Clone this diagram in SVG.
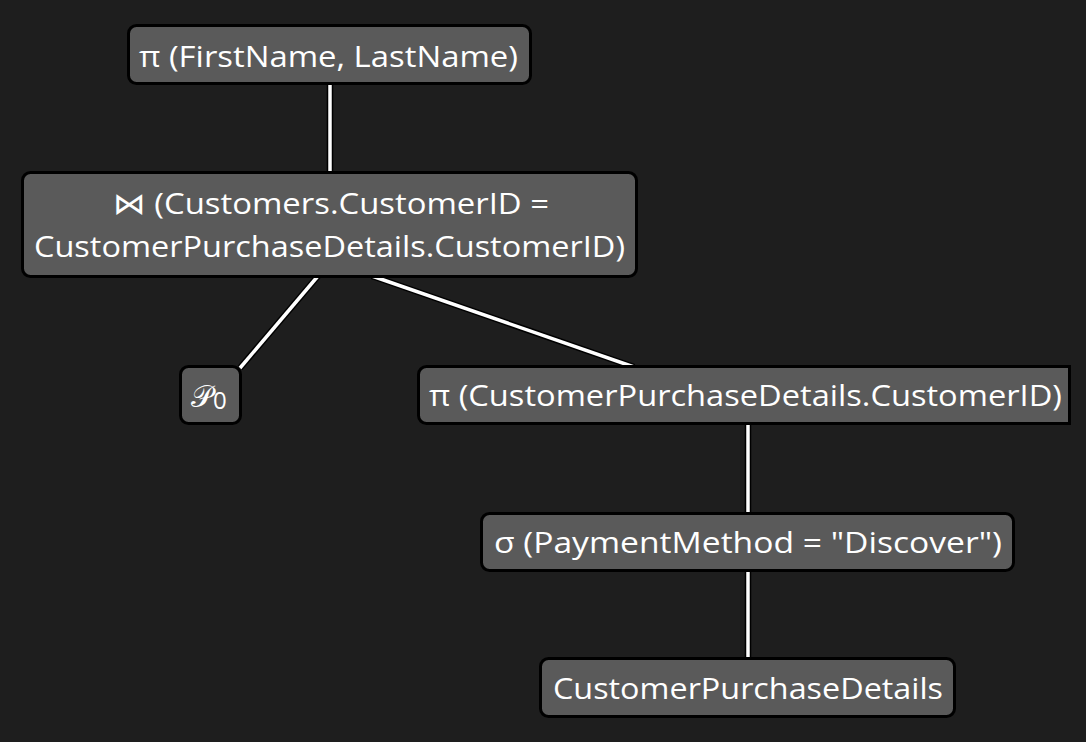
<svg xmlns="http://www.w3.org/2000/svg" width="1086" height="742" viewBox="0 0 1086 742">
  <style>
    .bg { fill: #1e1e1e; }
    .box { fill: #5a5a5a; stroke: #000000; stroke-width: 3; }
    .label { font-family: "Open Sans", "Noto Sans", "DejaVu Sans", sans-serif; font-size: 30px; fill: #ffffff; }
    .halo { stroke: #000000; stroke-width: 6.5; fill: none; stroke-linecap: butt; }
    .wire { stroke: #ffffff; stroke-width: 3.5; fill: none; stroke-linecap: butt; }
  </style>
  <rect class="bg" x="0" y="0" width="1086" height="742"/>

  <g id="connectors">
    <g>
      <line class="halo" x1="330" y1="84" x2="330" y2="172"/>
      <line class="wire" x1="330" y1="84" x2="330" y2="172"/>
    </g>
    <g>
      <line class="halo" x1="318" y1="276" x2="240" y2="368"/>
      <line class="wire" x1="318" y1="276" x2="240" y2="368"/>
    </g>
    <g>
      <line class="halo" x1="372" y1="276" x2="634" y2="367"/>
      <line class="wire" x1="372" y1="276" x2="634" y2="367"/>
    </g>
    <g>
      <line class="halo" x1="748" y1="423" x2="748" y2="513"/>
      <line class="wire" x1="748" y1="423" x2="748" y2="513"/>
    </g>
    <g>
      <line class="halo" x1="748" y1="571" x2="748" y2="659"/>
      <line class="wire" x1="748" y1="571" x2="748" y2="659"/>
    </g>
  </g>

  <g id="node-project-names">
    <rect class="box" x="128.5" y="25.5" width="402" height="58" rx="8"/>
    <text class="label" x="139" y="67" textLength="379" lengthAdjust="spacingAndGlyphs">π (FirstName, LastName)</text>
  </g>

  <g id="node-join">
    <rect class="box" x="22.5" y="172.5" width="614" height="104" rx="8"/>
    <text class="label" x="113" y="214" textLength="436" lengthAdjust="spacingAndGlyphs">⋈ (Customers.CustomerID =</text>
    <text class="label" x="34" y="257" textLength="591" lengthAdjust="spacingAndGlyphs">CustomerPurchaseDetails.CustomerID)</text>
  </g>

  <g id="node-p0">
    <rect class="box" x="180.5" y="366.5" width="60" height="57" rx="8"/>
    <text class="label" x="191" y="407">𝒫<tspan font-size="24" dy="2">0</tspan></text>
  </g>

  <g id="node-project-id">
    <path class="box" d="M426.5,366.5 H1069.5 V423.5 H426.5 A8,8 0 0 1 418.5,415.5 V374.5 A8,8 0 0 1 426.5,366.5 Z"/>
    <text class="label" x="429" y="405.5" textLength="633" lengthAdjust="spacingAndGlyphs">π (CustomerPurchaseDetails.CustomerID)</text>
  </g>

  <g id="node-select">
    <rect class="box" x="481.5" y="513.5" width="532" height="57" rx="8"/>
    <text class="label" x="494" y="553" textLength="508" lengthAdjust="spacingAndGlyphs">σ (PaymentMethod = "Discover")</text>
  </g>

  <g id="node-table">
    <rect class="box" x="540.5" y="658.5" width="414" height="58" rx="8"/>
    <text class="label" x="553" y="698.5" textLength="390" lengthAdjust="spacingAndGlyphs">CustomerPurchaseDetails</text>
  </g>
</svg>
